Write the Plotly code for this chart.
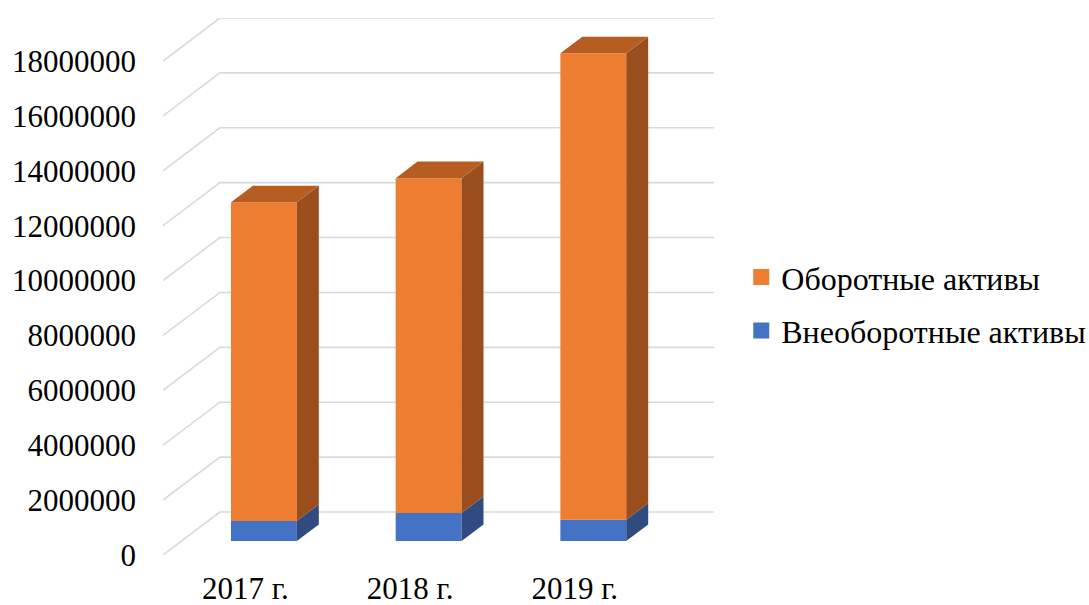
import plotly.graph_objects as go

# Balance sheet structure, rubles
years = ["2017 г.", "2018 г.", "2019 г."]
non_current = [730000, 1020000, 770000]       # Внеоборотные активы
current = [11610000, 12200000, 17000000]      # Оборотные активы
y_ticks = [0, 2000000, 4000000, 6000000, 8000000, 10000000,
           12000000, 14000000, 16000000, 18000000]
y_tick_labels = [str(v) for v in y_ticks]

FONT = "'Times New Roman', 'Liberation Serif', 'DejaVu Serif', serif"

# Pseudo-3D projection: depth d in [0, 1] shifts right and up
DEPTH_X = 0.3455          # category units at full depth
DEPTH_Y = 1567000         # value units at full depth
BAR_W = 0.40
D_FRONT, D_BACK = 0.326, 0.712

def proj(x, v, d):
    return x + d * DEPTH_X, v + d * DEPTH_Y

def poly(points, color):
    xs = [p[0] for p in points] + [points[0][0]]
    ys = [p[1] for p in points] + [points[0][1]]
    return go.Scatter(x=xs, y=ys, mode="lines", fill="toself",
                      fillcolor=color, line=dict(width=0, color=color),
                      hoverinfo="skip", showlegend=False)

fig = go.Figure()

# Gridlines: left wall diagonals and back wall horizontals
x_left, x_right = -0.5, len(years) - 0.5
for v in y_ticks:
    a = proj(x_left, v, 0)
    b = proj(x_left, v, 1)
    c = proj(x_right, v, 1)
    fig.add_trace(go.Scatter(x=[a[0], b[0], c[0]], y=[a[1], b[1], c[1]],
                             mode="lines", line=dict(color="#D9D9D9", width=1.6),
                             hoverinfo="skip", showlegend=False))

segments = [
    (non_current, "#4472C4", "#2F4B7F", "#3A62A8"),
    (current, "#ED7D31", "#9A4E1D", "#B65E22"),
]

for i in range(len(years)):
    base = 0
    for k, (vals, c_front, c_side, c_top) in enumerate(segments):
        lo, hi = base, base + vals[i]
        x0, x1 = i - BAR_W / 2, i + BAR_W / 2
        front = [proj(x0, lo, D_FRONT), proj(x1, lo, D_FRONT),
                 proj(x1, hi, D_FRONT), proj(x0, hi, D_FRONT)]
        side = [proj(x1, lo, D_FRONT), proj(x1, lo, D_BACK),
                proj(x1, hi, D_BACK), proj(x1, hi, D_FRONT)]
        fig.add_trace(poly(front, c_front))
        fig.add_trace(poly(side, c_side))
        if k == len(segments) - 1:
            top = [proj(x0, hi, D_FRONT), proj(x1, hi, D_FRONT),
                   proj(x1, hi, D_BACK), proj(x0, hi, D_BACK)]
            fig.add_trace(poly(top, c_top))
        base = hi

# Legend entries
fig.add_trace(go.Scatter(x=[None], y=[None], mode="markers", name="Оборотные активы",
                         marker=dict(symbol="square", size=16, color="#ED7D31"),
                         legendgroup="a", legendrank=1))
fig.add_trace(go.Scatter(x=[None], y=[None], mode="markers", name="Внеоборотные активы",
                         marker=dict(symbol="square", size=16, color="#4472C4"),
                         legendgroup="b", legendrank=2))

fig.update_layout(
    width=1089, height=605,
    margin=dict(l=163, r=375, t=18, b=50, autoexpand=False),
    paper_bgcolor="white", plot_bgcolor="white",
    font=dict(family=FONT, size=31, color="black"),
    showlegend=True,
    legend=dict(x=1.0495, y=0.467, xanchor="left", yanchor="middle",
                font=dict(family=FONT, size=32, color="black"),
                tracegroupgap=9, itemclick=False, bgcolor="rgba(0,0,0,0)"),
    xaxis=dict(range=[x_left, x_right + DEPTH_X], showgrid=False, zeroline=False,
               showline=False, tickmode="array", tickvals=list(range(len(years))),
               ticktext=years, ticks="", ticklabelstandoff=12, fixedrange=True,
               automargin=False),
    yaxis=dict(range=[0, y_ticks[-1] + DEPTH_Y], showgrid=False, zeroline=False,
               showline=False, tickmode="array", tickvals=y_ticks,
               ticktext=y_tick_labels, ticks="", ticklabelstandoff=26, fixedrange=True,
               automargin=False),
)

fig.write_html("out.html")
